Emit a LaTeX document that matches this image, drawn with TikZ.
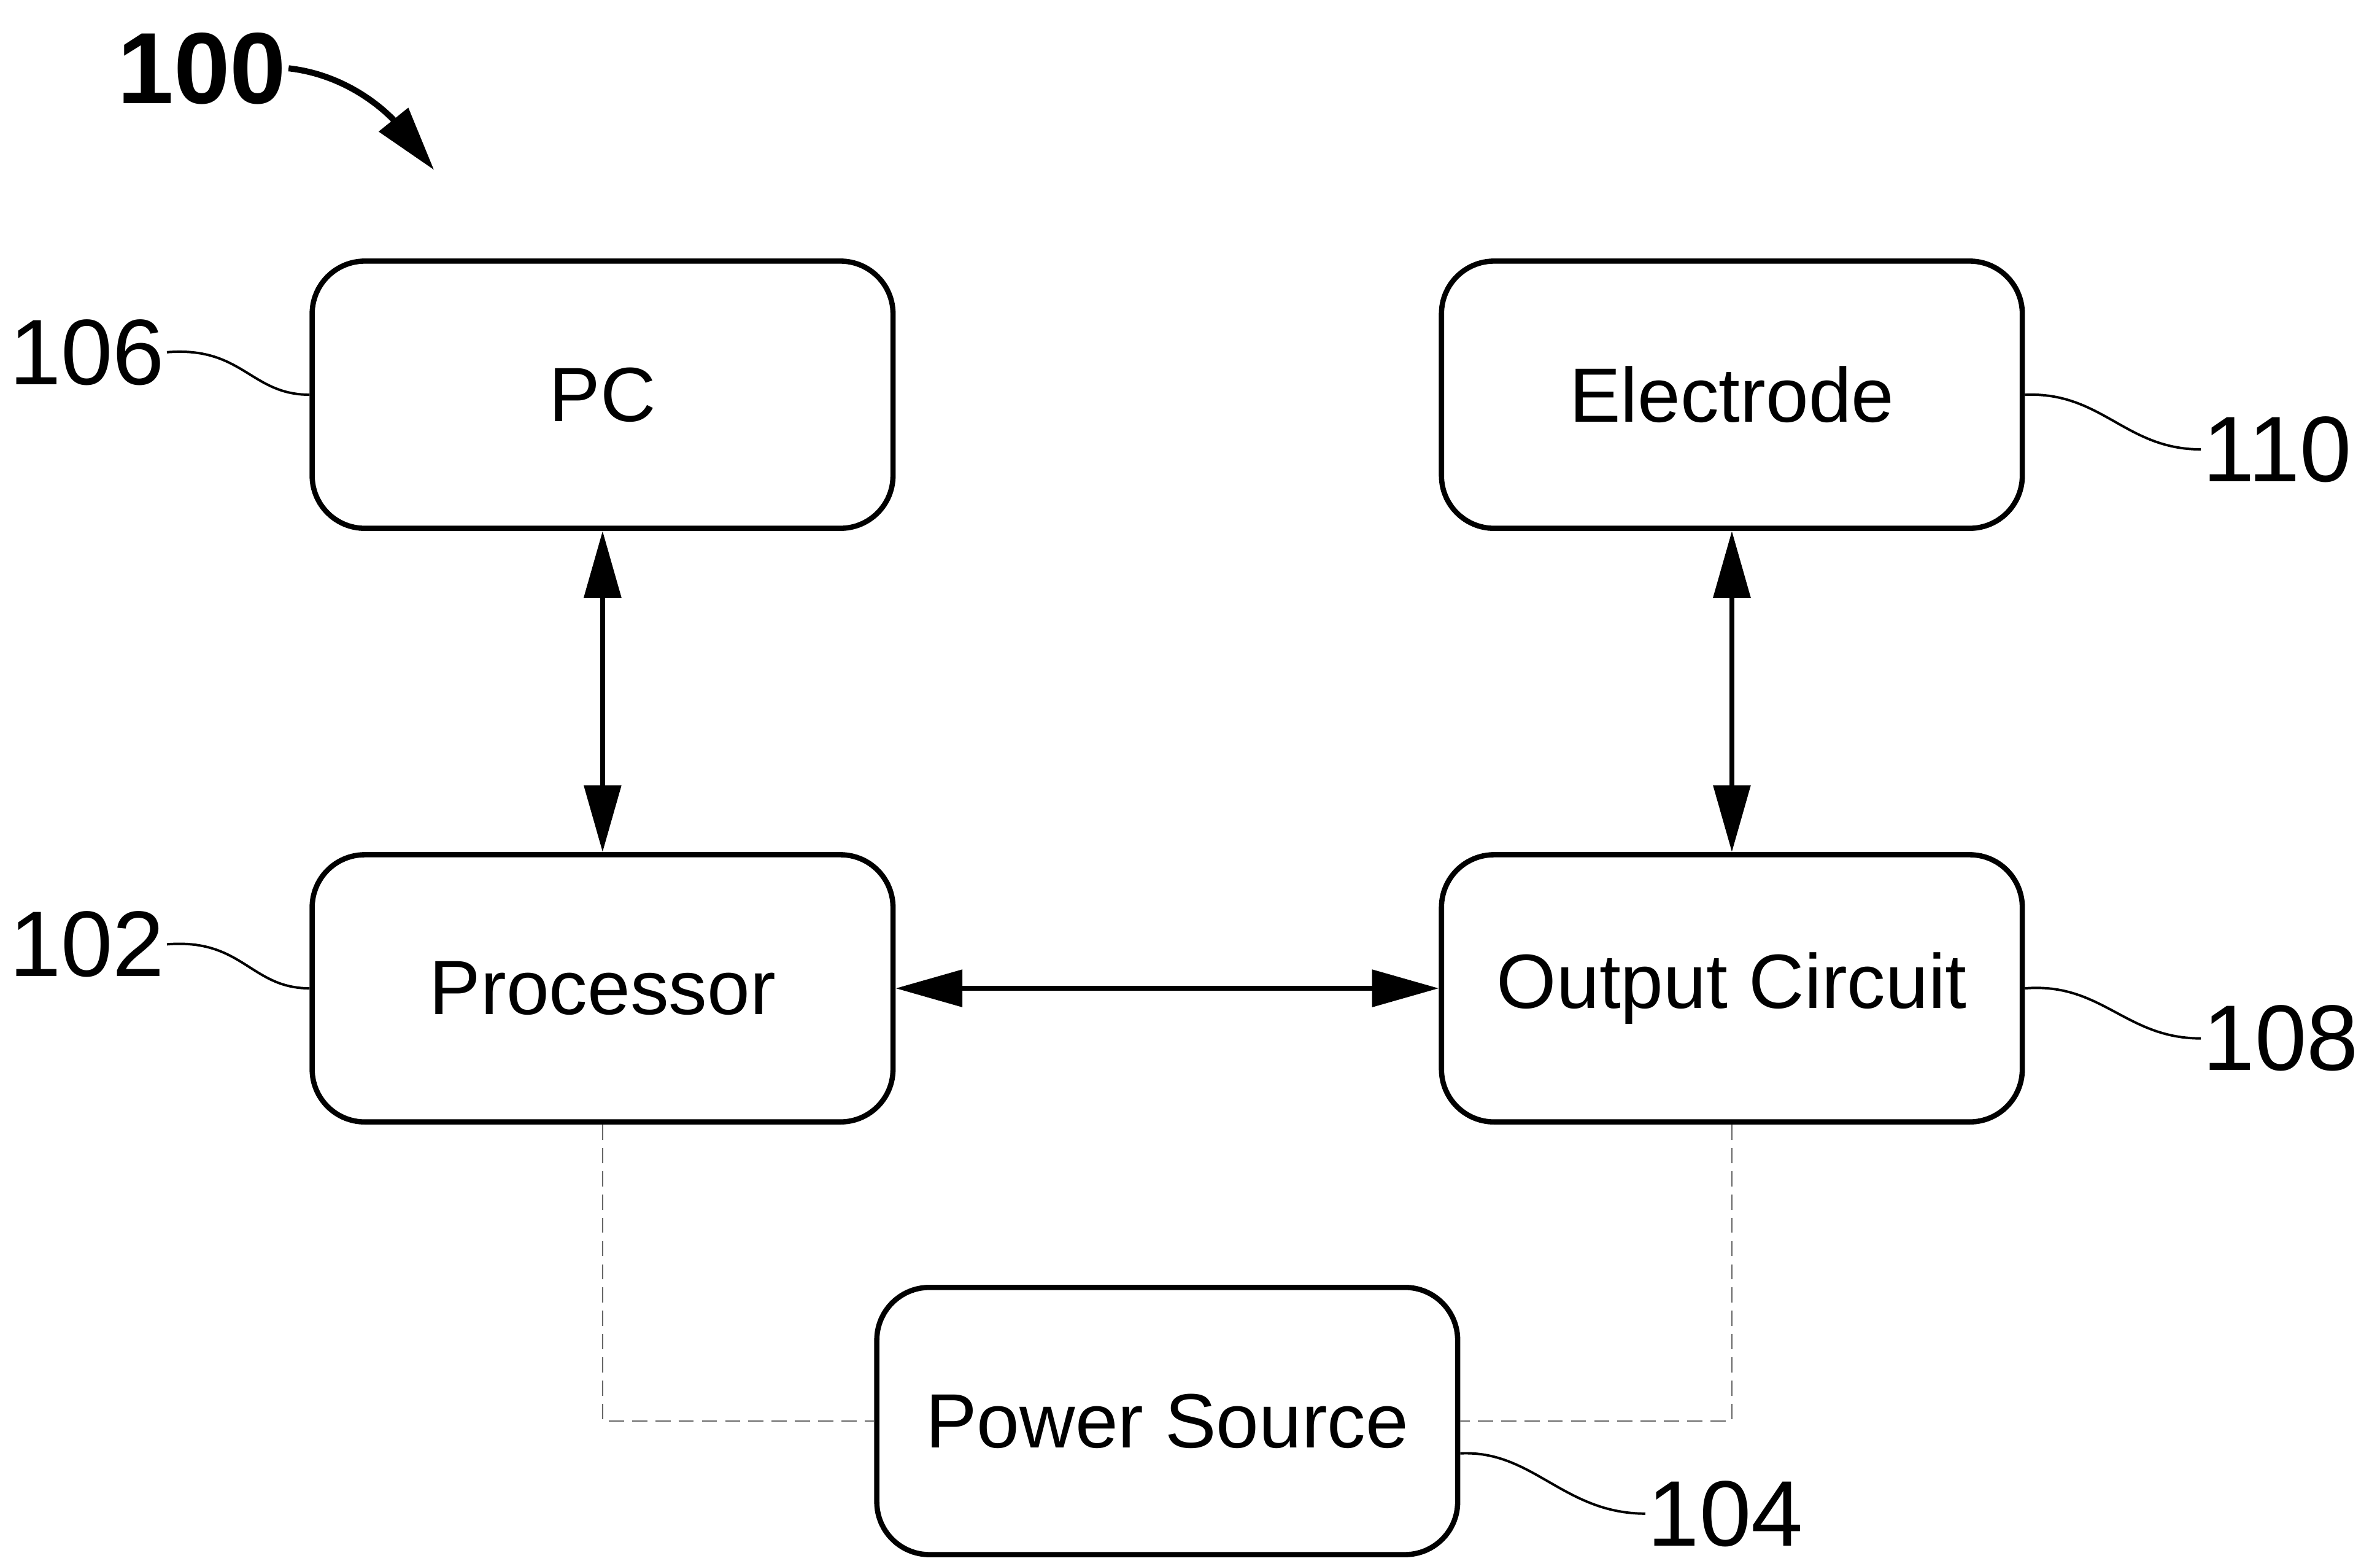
\documentclass[tikz,border=0pt]{standalone}
\usepackage{fontspec}
\setmainfont{Liberation Sans}
\usetikzlibrary{arrows.meta}

\tikzset{every picture/.style={line width=0.75pt}}
\tikzset{
  blockbox/.style={draw, line width=2.6pt, rounded corners=26pt, minimum width=287pt, minimum height=132pt, inner sep=0.75pt, font=\fontsize{38}{44}\selectfont},
  refnum/.style={inner sep=0.75pt, font=\fontsize{46}{52}\selectfont},
  leader/.style={line width=1.2pt},
  link/.style={line width=2.5pt, {Triangle[length=33pt,width=18pt]}-{Triangle[length=33pt,width=18pt]}},
  powerlink/.style={line width=0.75pt, draw=black!60, dash pattern=on 7.5pt off 4pt},
}

\begin{document}
\begin{tikzpicture}[x=0.75pt,y=0.75pt,yscale=-1,xscale=1]
\path (0,0) rectangle (1568,1028); %set diagram size

%Rounded Rect [PC]
\node [blockbox] (pc) at (397,260) {PC};
%Rounded Rect [Processor]
\node [blockbox] (proc) at (397,651) {Processor};
%Rounded Rect [Electrode]
\node [blockbox] (elec) at (1141,260) {Electrode};
%Rounded Rect [Output Circuit]
\node [blockbox] (outc) at (1141,651) {Output Circuit};
%Rounded Rect [Power Source]
\node [blockbox] (power) at (769,936) {Power Source};

% Text Node
\node [inner sep=0.75pt, font=\fontsize{50}{56}\selectfont\bfseries] (l100) at (133,45) {100};
% Text Node
\node [refnum, anchor=east] (l106) at (110,232) {106};
% Text Node
\node [refnum, anchor=east] (l102) at (110,622) {102};
% Text Node
\node [refnum, anchor=west] (l110) at (1450,296) {110};
% Text Node
\node [refnum, anchor=west] (l108) at (1450,684) {108};
% Text Node
\node [refnum, anchor=west] (l104) at (1084,997) {104};

%Curve Lines
\coordinate (tip100) at (286,112);
\draw [line width=3pt, -{Triangle[length=32pt,width=18pt]}] (l100.east) .. controls (235,50) and (261,81) .. (tip100);
\draw [leader] (l106.east) .. controls (160,228) and (165,260) .. (pc.west);
\draw [leader] (l102.east) .. controls (160,618) and (165,651) .. (proc.west);
\draw [leader] (elec.east) .. controls (1385,258) and (1400,296) .. (l110.west);
\draw [leader] (outc.east) .. controls (1385,647) and (1400,684) .. (l108.west);
\draw [leader] ([yshift=16pt]power.east) .. controls (1010,955) and (1030,997) .. (l104.west);

%Straight Lines
\draw [link] (pc) -- (proc);
\draw [link] (elec) -- (outc);
\draw [link] (proc) -- (outc);

%Dashed Lines
\draw [powerlink] (proc.south) |- (power.west);
\draw [powerlink] (outc.south) |- (power.east);

\end{tikzpicture}
\end{document}
